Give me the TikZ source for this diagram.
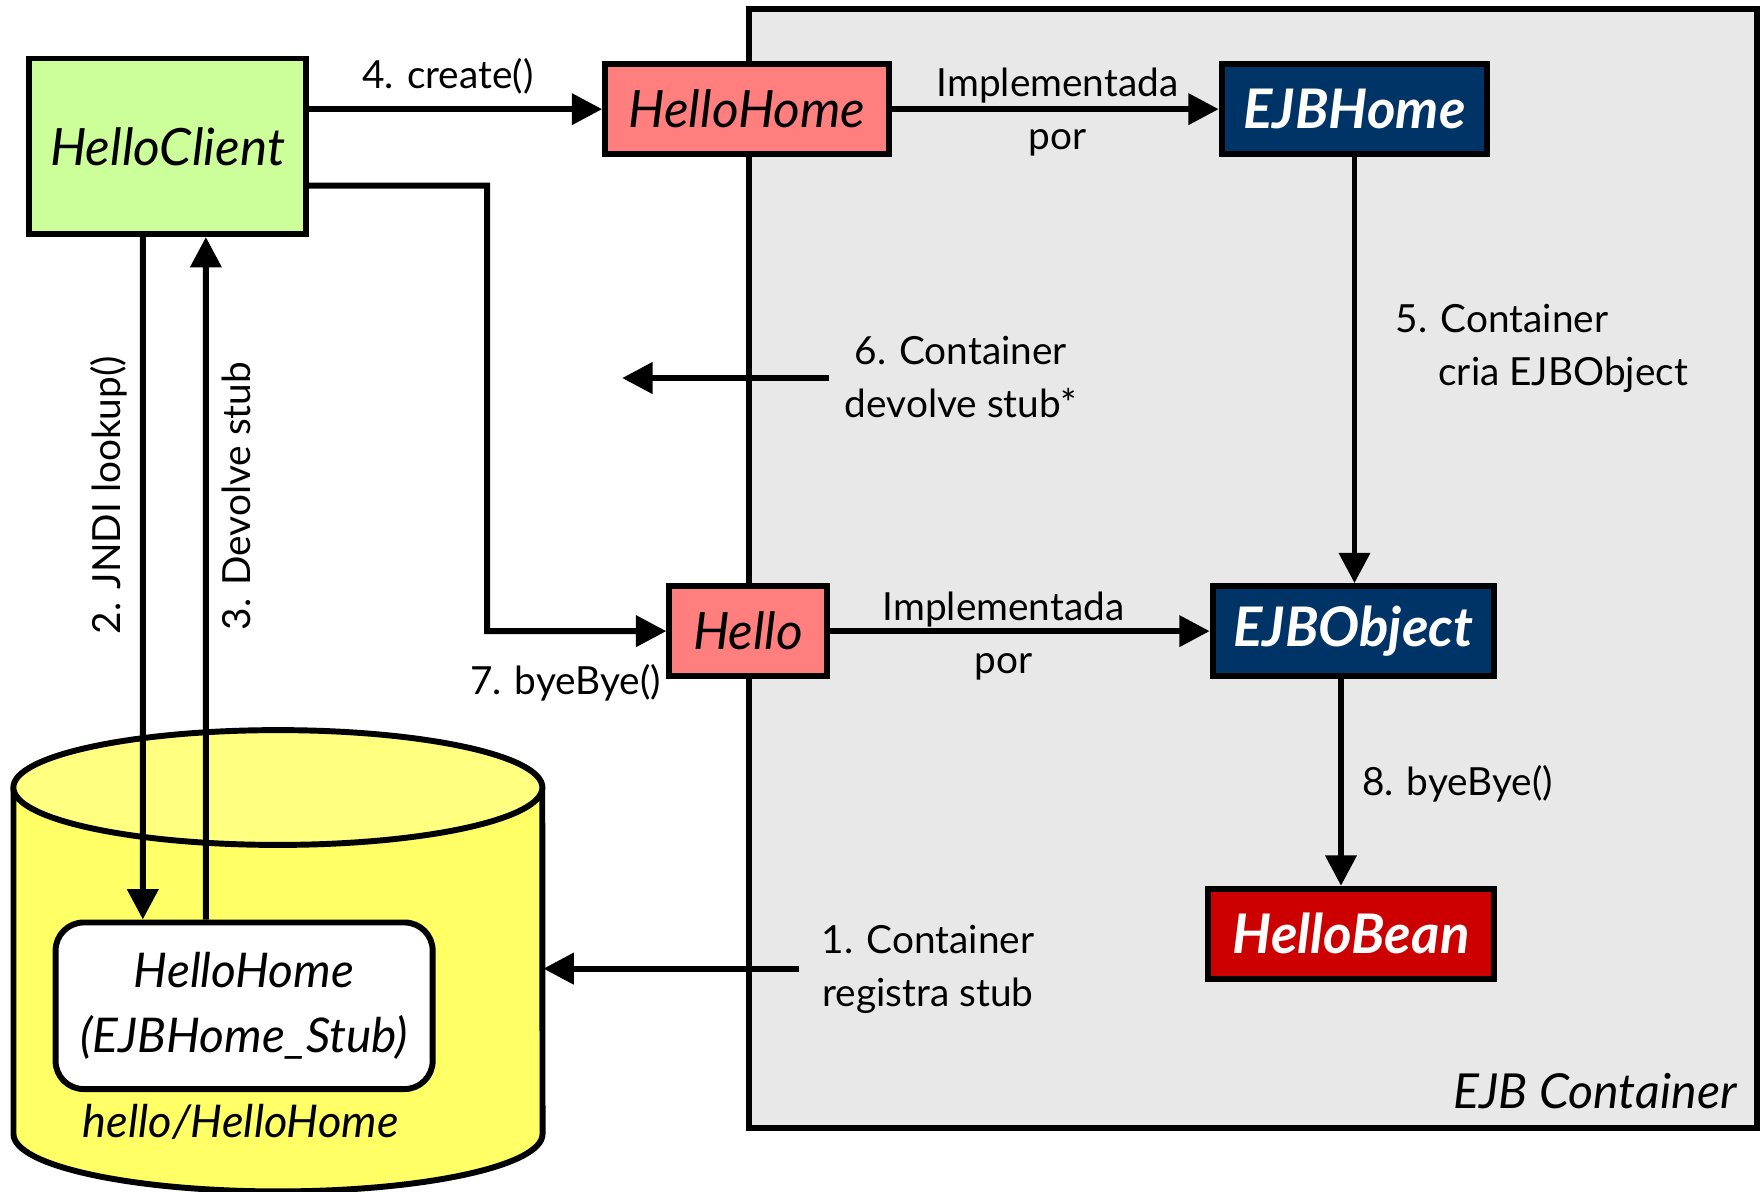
\documentclass[tikz,border=0pt]{standalone}
\usepackage{fontspec}
\setmainfont{Lato}
\usetikzlibrary{arrows.meta, positioning}

\definecolor{clientgreen}{HTML}{CCFF99}
\definecolor{homered}{HTML}{FF7F7F}
\definecolor{ejbblue}{HTML}{003366}
\definecolor{beanred}{HTML}{CC0000}
\definecolor{containergray}{HTML}{E8E8E8}
\definecolor{cylside}{HTML}{FFFF66}
\definecolor{cyltop}{HTML}{FFFF80}

\tikzset{
    box/.style={draw, line width=1.5pt, inner sep=0pt, minimum height=0.8cm, font=\fontsize{13}{15}\selectfont\itshape},
    homebox/.style={box, fill=homered},
    ejbbox/.style={box, fill=ejbblue, text=white, font=\fontsize{13.8}{15}\selectfont\bfseries\itshape},
    lbl/.style={inner sep=0pt, align=center, font=\fontsize{9.8}{13.4}\selectfont},
    flow/.style={-{Triangle[length=0.27cm, width=0.27cm]}, line width=1.5pt},
}

\begin{document}
\begin{tikzpicture}[x=0.01cm, y=-0.01cm]
        \useasboundingbox (0,0) rectangle (1568,1059);

        \draw[fill=containergray, line width=1.5pt] (666,8) rectangle (1562,1003);
        \node[anchor=base east, font=\fontsize{12.2}{14}\selectfont\itshape] (containername) at (1556,985) {EJB Container};

        \draw[fill=cylside, line width=1.5pt] (12,700) -- (12,1008) arc[start angle=180, end angle=360, x radius=2.35cm, y radius=0.51cm] -- (482,700);
        \draw[fill=cyltop, line width=1.5pt] (247,700) ellipse [x radius=2.35cm, y radius=0.51cm];

        \node[box, fill=white, rounded corners=0.25cm, minimum width=3.35cm, minimum height=1.48cm, align=center, font=\fontsize{12.1}{16.5}\selectfont\itshape] (stub) at (217,894) {HelloHome\\(EJBHome\_Stub)};
        \node[anchor=base, font=\fontsize{11.4}{13}\selectfont\itshape] (jndiname) at (214,1011) {hello/HelloHome};

        \node[box, fill=clientgreen, minimum width=2.46cm, minimum height=1.56cm] (client) at (149,130) {HelloClient};
        \node[homebox, minimum width=2.52cm] (home) at (664,97) {HelloHome};
        \node[ejbbox, minimum width=2.36cm] (ejbhome) at (1204,97) {EJBHome};
        \node[homebox, minimum width=1.4cm] (hello) at (665,561) {Hello};
        \node[ejbbox, minimum width=2.5cm] (ejbobject) at (1203,561) {EJBObject};
        \node[ejbbox, fill=beanred, minimum width=2.54cm] (bean) at (1201,830) {HelloBean};

        \coordinate (reg1) at (710,861);
        \coordinate (cylright) at (483,861);
        \draw[flow] (reg1) -- (cylright);
        \node[lbl] (reg1text) at (825,862) {1. Container\\registra stub};

        \draw[flow] ([xshift=-0.22cm]client.south) -- ([xshift=-0.9cm]stub.north);
        \node[lbl, rotate=90] (lookup2) at (97,440) {2. JNDI lookup()};

        \draw[flow] ([xshift=-0.34cm]stub.north) -- ([xshift=0.34cm]client.south);
        \node[lbl, rotate=90] (stub3) at (210,441) {3. Devolve stub};

        \draw[flow] (client.east |- home.west) -- (home.west);
        \node[lbl] (create4) at (398,68) {4. create()};

        \draw[flow] (home) -- (ejbhome);
        \node[lbl] (impl1) at (940,100) {Implementada\\por};

        \draw[flow] (ejbhome) -- (ejbhome |- ejbobject.north);
        \node[lbl, align=left, anchor=west] (create5) at (1240,310) {5. Container\\\hspace*{1.1em}cria EJBObject};

        \coordinate (ret6) at (737,336);
        \coordinate (ret6end) at (553,336);
        \draw[flow] (ret6) -- (ret6end);
        \node[lbl] (stub6) at (854,335) {6. Container\\devolve stub*};

        \draw[flow] ([yshift=-0.35cm]client.east) -- (433,165) |- (hello.west);
        \node[lbl, anchor=east] (bye7) at (588,607) {7. byeBye()};

        \draw[flow] (hello) -- (ejbobject);
        \node[lbl] (impl2) at (892,565) {Implementada\\por};

        \draw[flow] ([xshift=-0.11cm]ejbobject.south) -- ([xshift=-0.09cm]bean.north);
        \node[lbl, anchor=west] (bye8) at (1210,697) {8. byeBye()};
\end{tikzpicture}
\end{document}
